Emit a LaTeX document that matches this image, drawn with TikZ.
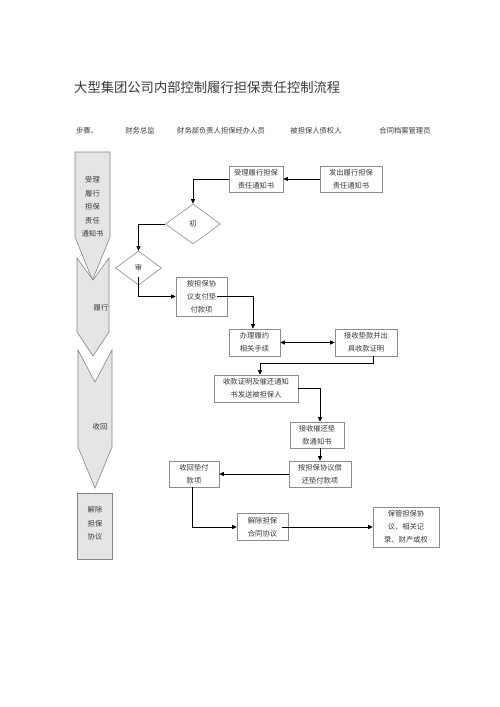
\documentclass[tikz,border=0pt]{standalone}
\usepackage{fontspec}
\newfontfamily\cjk{Noto Sans CJK SC}
\usetikzlibrary{arrows.meta,shapes.geometric,calc}
\begin{document}
\begin{tikzpicture}[x=1pt,y=-1pt,
  txt/.style={font=\cjk\fontsize{7.3}{12.8}\selectfont,text=black!78,align=center,inner sep=0pt},
  box/.style={txt,draw=black!45,line width=0.6pt,fill=white},
  dia/.style={txt,draw=black!45,line width=0.6pt,fill=white,diamond,aspect=1.4},
  lane/.style={draw=black!48,line width=0.6pt,fill=black!10},
  con/.style={draw=black,line width=0.8pt},
  arr/.style={con,-{Triangle[length=4.5pt,width=4pt]}},
  darr/.style={con,{Triangle[length=4.5pt,width=4pt]}-{Triangle[length=4.5pt,width=4pt]}}]
\useasboundingbox (0,0) rectangle (500,707);
% title and header
\node[txt,anchor=west,font=\cjk\fontsize{13.3}{15}\selectfont] (title) at (74,87) {大型集团公司内部控制履行担保责任控制流程};
\node[txt] (h1) at (87,131) {步骤、};
\node[txt] (h2) at (140,131) {财务总监};
\node[txt] (h3) at (221,131) {财务部负责人担保经办人员};
\node[txt] (h4) at (316,131) {被担保人债权人};
\node[txt] (h5) at (405,131) {合同档案管理员};
% left step shapes
\path[lane] (75,152) -- (110,152) -- (110,237) -- (92.5,280) -- (75,237) -- cycle;
\path[lane] (77,258) -- (93,280) -- (109,258) -- (109,332) -- (93,356) -- (77,332) -- cycle;
\path[lane] (78,350) -- (95,382) -- (112,350) -- (112,447) -- (95,488) -- (78,447) -- cycle;
\path[lane] (77,493) rectangle (112,559);
\node[txt,font=\cjk\fontsize{7.3}{13.4}\selectfont] (s1) at (92.5,207) {受理\\履行\\担保\\责任\\通知书};
\node[txt] (s2) at (101,308) {履行};
\node[txt] (s3) at (100,427) {收回};
\node[txt,font=\cjk\fontsize{7.3}{13.4}\selectfont] (s4) at (95,523.5) {解除\\担保\\协议};
% boxes
\node[box,minimum width=54pt,minimum height=26pt] (A) at (256,179) {受理履行担保\\责任通知书};
\node[box,minimum width=62pt,minimum height=26pt] (B) at (351,179) {发出履行担保\\责任通知书};
\node[dia,minimum width=55pt,minimum height=40pt] (chu) at (193,224) {初};
\node[dia,minimum width=46pt,minimum height=34pt] (shen) at (138.5,268) {审};
\node[box,minimum width=51pt,minimum height=39pt] (C) at (201.5,296.5) {按担保协\\议支付垫\\付款项};
\node[box,minimum width=51pt,minimum height=27pt] (D) at (254.5,342.5) {办理履约\\相关手续};
\node[box,minimum width=62pt,minimum height=27pt] (E) at (366,342.5) {接收垫款并出\\具收款证明};
\node[box,minimum width=84pt,minimum height=27pt] (F) at (256,388.5) {收款证明及催还通知\\书发送被担保人};
\node[box,minimum width=54pt,minimum height=26pt] (G) at (317,435) {接收催还垫\\款通知书};
\node[box,minimum width=62pt,minimum height=26pt] (H) at (320,474) {按担保协议偿\\还垫付款项};
\node[box,minimum width=50pt,minimum height=26pt] (I) at (194,474) {收回垫付\\款项};
\node[box,minimum width=51pt,minimum height=27pt] (J) at (262.5,527) {解除担保\\合同协议};
\node[box,minimum width=66pt,minimum height=40pt] (K) at (406,527) {保管担保协\\议、相关记\\录、财产或权};
% connectors
\draw[arr] (B.west) -- (A.east);
\draw[arr] (A.west) -| (chu.north);
\draw[arr] (chu.west) -| (shen.north);
\draw[arr] ([yshift=-9pt]shen.center) |- (C.west);
\draw[arr] ([xshift=-10pt]C.east) -| ([xshift=-1.5pt]D.north);
\draw[darr] (D.east) -- (E.west);
\coordinate (e1) at (373,363);
\draw[arr] ([xshift=7pt]E.south) -- (e1) -| ([xshift=4pt]F.north);
\draw[arr] (F.east) -| ([xshift=3pt]G.north);
\draw[arr] ([xshift=3pt]G.south) -- (H.north);
\draw[arr] (H.west) -- (I.east);
\draw[arr] ([xshift=-2pt]I.south) |- (J.west);
\draw[arr] ([xshift=-6pt]J.east) -- (K.west);
\end{tikzpicture}
\end{document}
